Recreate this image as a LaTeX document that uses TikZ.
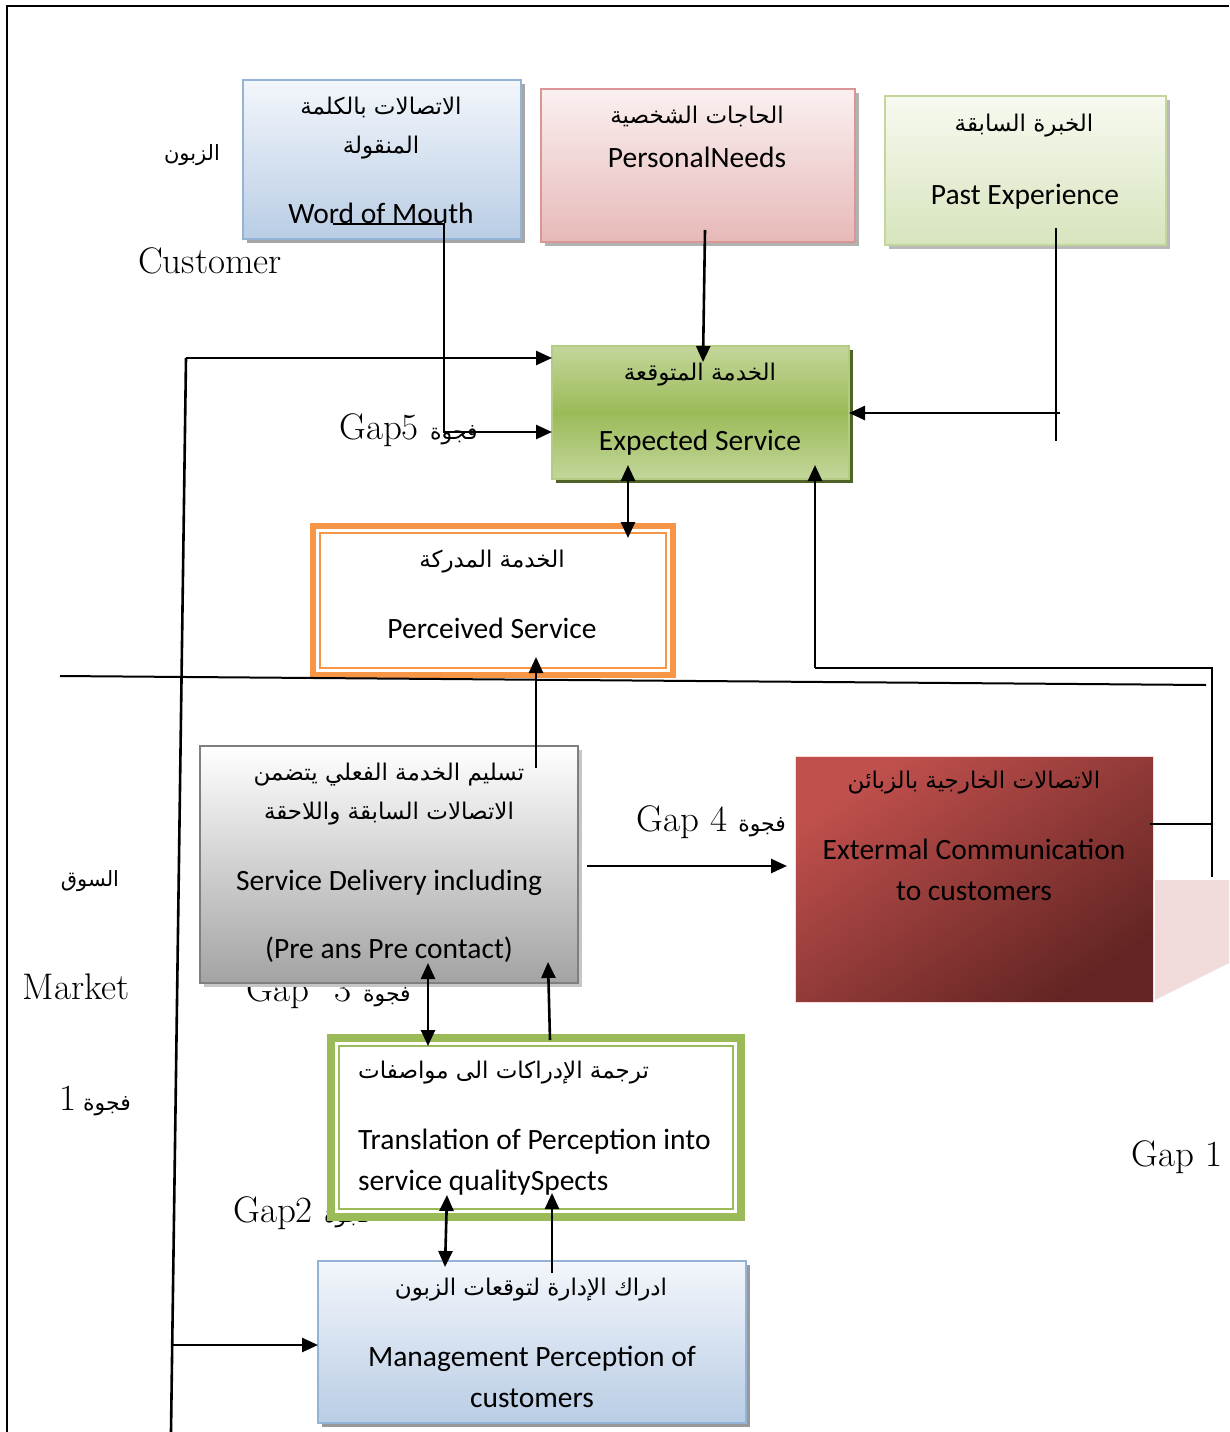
\documentclass[tikz,border=0pt]{standalone}
\usepackage{fontspec}
\usetikzlibrary{arrows.meta,shadows}
\TeXXeTstate=1
\newfontfamily\calfont{Carlito}
\newfontfamily\arfont[Script=Arabic]{DejaVu Sans}
\newcommand{\ar}[1]{{\arfont\beginR #1\endR}}
\newcommand{\gapar}[1]{{\arfont\fontsize{22}{26}\selectfont\beginR #1\endR}}

\definecolor{bluetop}{HTML}{F3F6FB}
\definecolor{bluebot}{HTML}{B9CDE5}
\definecolor{blueline}{HTML}{95B3D7}
\definecolor{pinktop}{HTML}{FBF0F0}
\definecolor{pinkbot}{HTML}{E6B9B8}
\definecolor{pinkline}{HTML}{D99694}
\definecolor{lgtop}{HTML}{F7FAF0}
\definecolor{lgbot}{HTML}{D7E4BD}
\definecolor{lgline}{HTML}{C3D69B}
\definecolor{gtop}{HTML}{C3D69B}
\definecolor{gmid}{HTML}{9BBB59}
\definecolor{gline}{HTML}{B3CC82}
\definecolor{gshadow}{HTML}{4F6228}
\definecolor{orangeb}{HTML}{F79646}
\definecolor{greenb}{HTML}{9BBB59}
\definecolor{graybot}{HTML}{A3A3A3}
\definecolor{grayline}{HTML}{7F7F7F}
\definecolor{redtop}{HTML}{C0504D}
\definecolor{redbot}{HTML}{632523}
\definecolor{pinkflap}{HTML}{F2DCDB}

\tikzset{
  box/.style={rectangle, inner sep=0pt, outer sep=0pt, anchor=north west, line width=1.5pt},
  shad/.style={drop shadow={shadow xshift=4pt, shadow yshift=-4pt, fill=#1, opacity=1}},
  entxt/.style={font=\calfont\fontsize{29.5}{35}\selectfont, inner sep=0pt, anchor=mid, yshift=-7pt},
  artxt/.style={font=\arfont\fontsize{23}{27}\selectfont, inner sep=0pt, anchor=mid, yshift=-5pt},
  lbl/.style={font=\fontsize{37}{42}\selectfont, inner sep=0pt, anchor=mid, yshift=-9pt},
  lblar/.style={font=\arfont\fontsize{21}{25}\selectfont, inner sep=0pt, anchor=mid, yshift=-5pt},
  conn/.style={line width=2.6pt, black},
  arr/.style={conn, -{Triangle[length=16pt,width=14pt]}},
  darr/.style={conn, {Triangle[length=16pt,width=14pt]}-{Triangle[length=16pt,width=14pt]}},
  frame/.style={line width=2.8pt, black},
}

\begin{document}
\begin{tikzpicture}[x=1pt,y=-1pt]
\useasboundingbox (0,0) rectangle (1229,1432);

% page frame
\coordinate (fTL) at (7,6);
\draw[frame] (1229,6) -- (fTL) -- (7,1432);

% gap labels that sit partly under the boxes
\node[lbl, anchor=mid west] (gap3) at (246,990) {Gap\hspace{26pt}3 \gapar{فجوة}};
\node[lbl, anchor=mid west] (gap2) at (233,1211) {Gap2 \gapar{فجوة}};

% customer side boxes
\node[box, minimum width=278pt, minimum height=159pt, draw=blueline, top color=bluetop, bottom color=bluebot, shad=gray!70] (wom) at (243,80) {};
\node[box, minimum width=314pt, minimum height=153pt, draw=pinkline, top color=pinktop, bottom color=pinkbot, shad=gray!60] (pn) at (541,89) {};
\node[box, minimum width=281pt, minimum height=149pt, draw=lgline, top color=lgtop, bottom color=lgbot, shad=gray!55] (pe) at (885,96) {};
\node[box, minimum width=297pt, minimum height=133pt, draw=gline, top color=gtop, bottom color=gtop, middle color=gmid, shad=gshadow] (exp) at (552,346) {};

% perceived service: thick orange frame with thin inner line
\node[box, minimum width=360pt, minimum height=149pt, draw=orangeb, line width=6pt, fill=white] (perc) at (313,526) {};
\draw[orangeb, line width=2pt] ([shift={(7,7)}]perc.north west) rectangle ([shift={(-7,-7)}]perc.south east);

% market side boxes
\node[box, minimum width=378pt, minimum height=237pt, draw=grayline, top color=white, bottom color=graybot, shad=gray!45] (sd) at (200,746) {};
\node[box, minimum width=358pt, minimum height=246pt, draw=white!85!red, line width=1pt, top color=redtop, bottom color=redbot, shading angle=35] (ext) at (795,756) {};
\fill[pinkflap] (1155,880) -- (1229,880) -- (1229,963) -- (1155,1000) -- cycle;

\node[box, minimum width=410pt, minimum height=179pt, draw=greenb, line width=8pt, fill=white] (trans) at (331,1038) {};
\draw[greenb, line width=2pt] ([shift={(8,8)}]trans.north west) rectangle ([shift={(-8,-8)}]trans.south east);

\node[box, minimum width=428pt, minimum height=162pt, draw=blueline, top color=bluetop, bottom color=bluebot, shad=gray!80] (mgmt) at (318,1261) {};

% box texts
\node[artxt] (womA1) at (381,107) {\ar{الاتصالات بالكلمة}};
\node[artxt] (womA2) at (381,146) {\ar{المنقولة}};
\node[entxt] (womE) at (381,214) {Word of Mouth};

\node[artxt] (pnA) at (697,116) {\ar{الحاجات الشخصية}};
\node[entxt] (pnE) at (697,158) {PersonalNeeds};

\node[artxt] (peA) at (1024,124) {\ar{الخبرة السابقة}};
\node[entxt] (peE) at (1025,195) {Past Experience};

\node[artxt] (expA) at (700,373) {\ar{الخدمة المتوقعة}};
\node[entxt] (expE) at (700,441) {Expected Service};

\node[artxt] (percA) at (492,560) {\ar{الخدمة المدركة}};
\node[entxt] (percE) at (492,629) {Perceived Service};

\node[artxt] (sdA1) at (389,773) {\ar{تسليم الخدمة الفعلي يتضمن}};
\node[artxt] (sdA2) at (389,812) {\ar{الاتصالات السابقة واللاحقة}};
\node[entxt] (sdE1) at (389,881) {Service Delivery including};
\node[entxt] (sdE2) at (389,949) {(Pre ans Pre contact)};

\node[artxt] (extA) at (974,781) {\ar{الاتصالات الخارجية بالزبائن}};
\node[entxt] (extE1) at (974,850) {Extermal Communication};
\node[entxt] (extE2) at (974,891) {to customers};

\node[artxt, anchor=mid west] (trA) at (358,1071) {\ar{ترجمة الإدراكات الى مواصفات}};
\node[entxt, anchor=mid west] (trE1) at (358,1140) {Translation of Perception into};
\node[entxt, anchor=mid west] (trE2) at (358,1181) {service qualitySpects};

\node[artxt] (mgA) at (531,1288) {\ar{ادراك الإدارة لتوقعات الزبون}};
\node[entxt] (mgE1) at (532,1357) {Management Perception of};
\node[entxt] (mgE2) at (532,1398) {customers};

% side labels
\node[lblar] (custA) at (192,153) {\ar{الزبون}};
\node[lbl] (cust) at (210,262) {Customer};
\node[lbl, anchor=mid west] (gap5) at (339,428) {Gap5 \gapar{فجوة}};
\node[lbl, anchor=mid west] (gap4) at (636,820) {Gap 4 \gapar{فجوة}};
\node[lblar] (mktA) at (90,879) {\ar{السوق}};
\node[lbl] (mkt) at (76,988) {Market};
\node[lbl] (gap1a) at (95,1099) {{\arfont\fontsize{22}{26}\selectfont\beginR فجوة {\fontsize{37}{42}\selectfont\rmfamily 1}\endR}};
\node[lbl] (gap1) at (1177,1155) {Gap 1};

% connector end points
\coordinate (lTop) at (186,358);
\coordinate (lBot) at (171,1432);
\coordinate (lMg) at (172.2,1345);
\coordinate (womS) at (333,224);
\coordinate (womK) at (444,224);
\coordinate (womL) at (444,432);
\coordinate (pnS) at (705,230);
\coordinate (pnT) at (703,362);
\coordinate (peS) at (1056,228);
\coordinate (peB) at (1056,441);
\coordinate (peH) at (1060,413);
\coordinate (epT) at (628,465);
\coordinate (epB) at (628,538);
\coordinate (pcS) at (536,768);
\coordinate (pcT) at (536,657);
\coordinate (divL) at (60,676);
\coordinate (divR) at (1206,685);
\coordinate (exS) at (1150,824);
\coordinate (exR) at (1212,824);
\coordinate (exD) at (1212,877);
\coordinate (exU) at (1212,668);
\coordinate (exL) at (815,668);
\coordinate (exT) at (815,465);
\coordinate (g4S) at (587,866);
\coordinate (g4T) at (787,866);
\coordinate (s3T) at (428,963);
\coordinate (s3B) at (428,1046);
\coordinate (u3B) at (550,1040);
\coordinate (u3T) at (548,962);
\coordinate (s2T) at (447,1195);
\coordinate (s2B) at (445,1267);
\coordinate (u2B) at (552,1273);
\coordinate (u2T) at (552,1193);

% connectors
\draw[conn] (lTop) -- (lBot);
\draw[arr] (lTop) -- (lTop -| exp.west);
\draw[arr] (lMg) -- (lMg -| mgmt.west);
\draw[arr] (womS) -- (womK) -- (womL) -- (womL -| exp.west);
\draw[arr] (pnS) -- (pnT);
\draw[conn] (peS) -- (peB);
\draw[arr] (peH) -- (peH -| exp.east);
\draw[darr] (epT) -- (epB);
\draw[arr] (pcS) -- (pcT);
\draw[line width=2pt] (divL) -- (divR);
\draw[conn] (exS) -- (exR);
\draw[conn] (exD) -- (exU) -- (exL);
\draw[arr] (exL) -- (exT);
\draw[arr] (g4S) -- (g4T);
\draw[darr] (s3T) -- (s3B);
\draw[arr] (u3B) -- (u3T);
\draw[darr] (s2T) -- (s2B);
\draw[arr] (u2B) -- (u2T);
\end{tikzpicture}
\end{document}
